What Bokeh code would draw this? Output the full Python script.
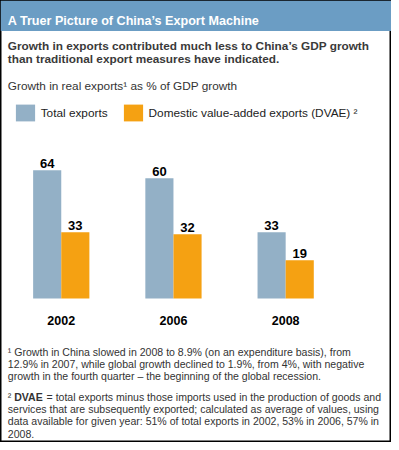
import numpy as np
from bokeh.plotting import figure
from bokeh.models import Range1d, ColumnDataSource, Legend, LegendItem
from bokeh.core.properties import value
from bokeh.embed import file_html
from bokeh.resources import INLINE

# ---------------- data ----------------
years = ["2002", "2006", "2008"]
total_exports = [64, 60, 33]
dvae_exports = [33, 32, 19]
series_labels = ["Total exports", "Domestic value-added exports (DVAE) \u00b2"]

title_text = "A Truer Picture of China\u2019s Export Machine"
subtitle_lines = [
    "Growth in exports contributed much less to China\u2019s GDP growth",
    "than traditional export measures have indicated.",
]
measure_text = "Growth in real exports\u00b9 as % of GDP growth"
footnote1_lines = [
    "\u00b9 Growth in China slowed in 2008 to 8.9% (on an expenditure basis), from",
    "12.9% in 2007, while global growth declined to 1.9%, from 4%, with negative",
    "growth in the fourth quarter \u2013 the beginning of the global recession.",
]
footnote2_mark = "\u00b2"
footnote2_term = "DVAE"
footnote2_first_rest = "= total exports minus those imports used in the production of goods and"
footnote2_lines = [
    "services that are subsequently exported; calculated as average of values, using",
    "data available for given year: 51% of total exports in 2002, 53% in 2006, 57% in",
    "2008.",
]

# ---------------- style / layout ----------------
W, H = 391, 442          # canvas size
RW, RH = 399, 450        # layout coordinate space
FONT = value("Liberation Sans")
HEADER_BLUE = "#6B9DC4"
TOTAL_BLUE = "#93B0C6"
DVAE_ORANGE = "#F5A112"
TXT = "#333333"
FN_SIZE = "10.55px"

group_px = 114.5     # spacing between year groups (layout units)
first_center = 62.0  # layout x of first group center
baseline = 303.3     # layout y of bar baseline
unit_px = 2.04       # layout px per value unit
bar_w = 28.7 / group_px

p = figure(width=W, height=H,
           x_range=Range1d(0, RW), y_range=Range1d(RH, 0),
           output_backend="svg", toolbar_location=None,
           x_axis_type=None, y_axis_type=None, min_border=0,
           outline_line_color="black", outline_line_width=2,
           background_fill_color="white", border_fill_color="white")

p.extra_x_ranges = {"bars": Range1d(-first_center / group_px, (RW - first_center) / group_px)}
p.extra_y_ranges = {"vals": Range1d((baseline - RH) / unit_px, baseline / unit_px)}

# header band
p.quad(left=[0], right=[RW], top=[0], bottom=[31], color=HEADER_BLUE, line_color=None)
p.text(x=[7.5], y=[21], text=[title_text], text_font=FONT, text_font_size="12.6px",
       text_font_style="bold", text_color="white", text_baseline="alphabetic")

# subtitle
p.text(x=[7.5, 7.5], y=[46.5, 59.5], text=subtitle_lines, text_font=FONT,
       text_font_size="11.8px", text_font_style="bold", text_color="#3a3a3a",
       text_baseline="alphabetic")

# measure
p.text(x=[7.5], y=[87.5], text=[measure_text], text_font=FONT, text_font_size="11.8px",
       text_color=TXT, text_baseline="alphabetic")

# bars
idx = np.arange(len(years))
src = ColumnDataSource(dict(
    year=years, idx=idx,
    total=total_exports, dvae=dvae_exports,
    x_total=idx - bar_w / 2, x_dvae=idx + bar_w / 2,
    total_lbl=[str(v) for v in total_exports],
    dvae_lbl=[str(v) for v in dvae_exports],
))
r_total = p.vbar(x="x_total", top="total", bottom=0, width=bar_w, source=src,
                 fill_color=TOTAL_BLUE, line_color=None,
                 x_range_name="bars", y_range_name="vals")
r_dvae = p.vbar(x="x_dvae", top="dvae", bottom=0, width=bar_w, source=src,
                fill_color=DVAE_ORANGE, line_color=None,
                x_range_name="bars", y_range_name="vals")

# value labels
for xcol, ycol, lcol in (("x_total", "total", "total_lbl"), ("x_dvae", "dvae", "dvae_lbl")):
    p.text(x=xcol, y=ycol, text=lcol, source=src, text_font=FONT, text_font_size="13px",
           text_font_style="bold", text_color="black", text_align="center",
           text_baseline="alphabetic", y_offset=-7,
           x_range_name="bars", y_range_name="vals")

# year labels
p.text(x="idx", y=326, text="year", source=src, text_font=FONT, text_font_size="12.5px",
       text_font_style="bold", text_color="black", text_align="center",
       text_baseline="alphabetic", x_range_name="bars")

# legend
legend = Legend(items=[LegendItem(label=series_labels[0], renderers=[r_total]),
                       LegendItem(label=series_labels[1], renderers=[r_dvae])],
                location=(12.7, 318.9), orientation="horizontal",
                glyph_width=24, glyph_height=21, label_height=21,
                label_standoff=4, spacing=13, padding=0, margin=0,
                border_line_color=None, background_fill_alpha=0,
                label_text_font="Liberation Sans", label_text_font_size="11.8px",
                label_text_color="#222222")
p.add_layout(legend)

# footnotes
p.text(x=[7.5] * 3, y=[358, 370, 382], text=footnote1_lines, text_font=FONT,
       text_font_size=FN_SIZE, text_color=TXT, text_baseline="alphabetic")
p.text(x=[7.5], y=[404], text=[footnote2_mark], text_font=FONT,
       text_font_size=FN_SIZE, text_color=TXT, text_baseline="alphabetic")
p.text(x=[14], y=[404], text=[footnote2_term], text_font=FONT,
       text_font_size=FN_SIZE, text_font_style="bold", text_color=TXT,
       text_baseline="alphabetic")
p.text(x=[47], y=[404], text=[footnote2_first_rest], text_font=FONT,
       text_font_size=FN_SIZE, text_color=TXT, text_baseline="alphabetic")
p.text(x=[7.5] * 3, y=[416.3, 428.6, 441], text=footnote2_lines, text_font=FONT,
       text_font_size=FN_SIZE, text_color=TXT, text_baseline="alphabetic")

open("out.html", "w").write(file_html(p, INLINE))
